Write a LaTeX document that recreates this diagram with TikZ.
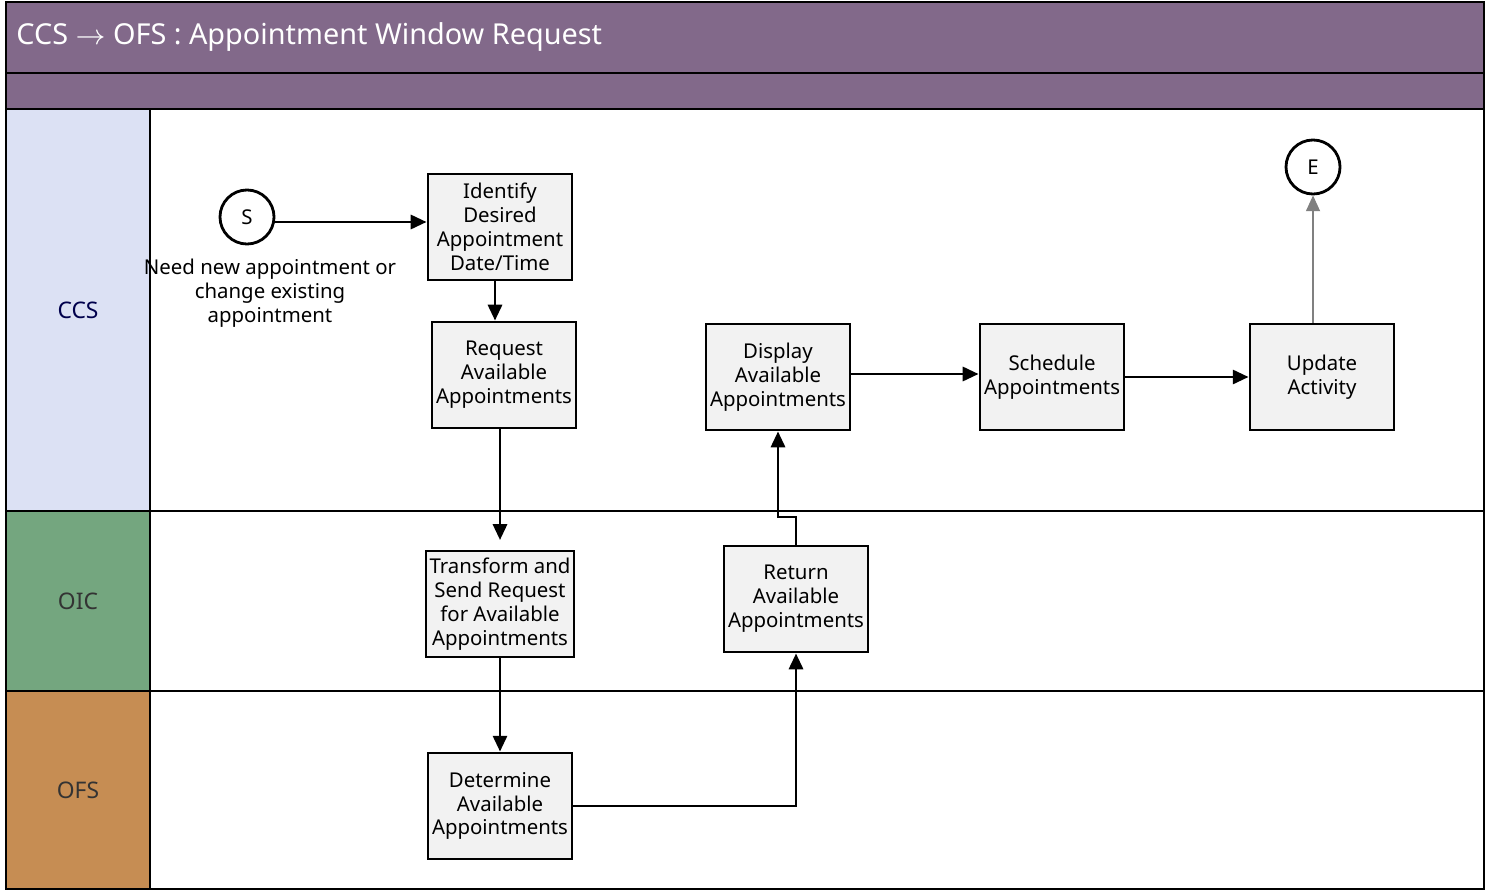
\documentclass[tikz,border=0pt]{standalone}
\usepackage{fontspec}
\setmainfont{Noto Sans}
\usetikzlibrary{arrows.meta}
\usetikzlibrary{positioning}
\definecolor{titlebar}{HTML}{82698A}
\definecolor{ccslane}{HTML}{DCE1F4}
\definecolor{oiclane}{HTML}{74A67F}
\definecolor{ofslane}{HTML}{C68D53}
\definecolor{boxfill}{HTML}{F2F2F2}
\begin{document}
\begin{tikzpicture}[x=0.01cm, y=-0.01cm, >={Triangle[length=4.5pt,width=4pt]}]
  \tikzset{every node/.style={font=\fontsize{5.8}{6.8}\selectfont},
    task/.style={draw, thick, fill=boxfill, minimum width=1.44cm, minimum height=1.06cm, align=center, inner sep=1pt},
    event/.style={draw, thick, circle, minimum size=0.54cm, inner sep=0pt},
    flow/.style={->, thick}}
  \useasboundingbox (0,0) rectangle (1495,891);

  % lanes
  \draw[thick, fill=titlebar] (6,2) rectangle (1484,73);
  \draw[thick, fill=titlebar] (6,73) rectangle (1484,109);
  \draw[thick, fill=ccslane] (6,109) rectangle (150,511);
  \draw[thick, fill=oiclane] (6,511) rectangle (150,691);
  \draw[thick, fill=ofslane] (6,691) rectangle (150,889);
  \draw[thick] (150,109) rectangle (1484,511);
  \draw[thick] (150,511) rectangle (1484,691);
  \draw[thick] (150,691) rectangle (1484,889);
  \node[anchor=west, text=white, font=\fontsize{8.2}{9}\selectfont\bfseries] (title) at (4,37) {CCS $\rightarrow$ OFS : Appointment Window Request};
  \node[text=black!70!blue, font=\fontsize{6.5}{7}\selectfont] (ccs) at (78,310) {CCS};
  \node[text=black!80, font=\fontsize{6.5}{7}\selectfont] (oic) at (78,601) {OIC};
  \node[text=black!80, font=\fontsize{6.5}{7}\selectfont] (ofs) at (78,790) {OFS};

  % tasks
  \node[event] (start) at (247,217) {S};
  \node[align=center] (need) at (270,293) {Need new appointment or\\change existing\\appointment};
  \node[task] (identify) at (500,227) {Identify\\Desired\\Appointment\\Date/Time};
  \node[task] (request) at (504,375) {Request\\Available\\Appointments};
  \node[task] (transform) at (500,604) {Transform and\\Send Request\\for Available\\Appointments};
  \node[task] (determine) at (500,806) {Determine\\Available\\Appointments};
  \node[task] (return) at (796,599) {Return\\Available\\Appointments};
  \node[task] (display) at (778,377) {Display\\Available\\Appointments};
  \node[task] (schedule) at (1052,377) {Schedule\\Appointments};
  \node[task] (update) at (1322,377) {Update\\Activity};
  \node[event] (end) at (1313,167) {E};

  % connectors
  \draw[flow] (start.east) ++(0,5) coordinate (s1) -- (s1 -| identify.west);
  \draw[flow] (identify.south -| 495,0) -- (request.north -| 495,0);
  \draw[flow] (request.south -| 500,0) -- (500,540);
  \draw[flow] (transform) -- (determine);
  \draw[flow] (determine.east) -| (return.south);
  \draw[flow] (return.north) |- (778,517) -- (display.south);
  \draw[flow] (display.east |- 0,374) -- (schedule.west |- 0,374);
  \draw[flow] (schedule) -- (update);
  \draw[->, gray] (update.north -| 1313,0) -- (end.south);
\end{tikzpicture}
\end{document}
